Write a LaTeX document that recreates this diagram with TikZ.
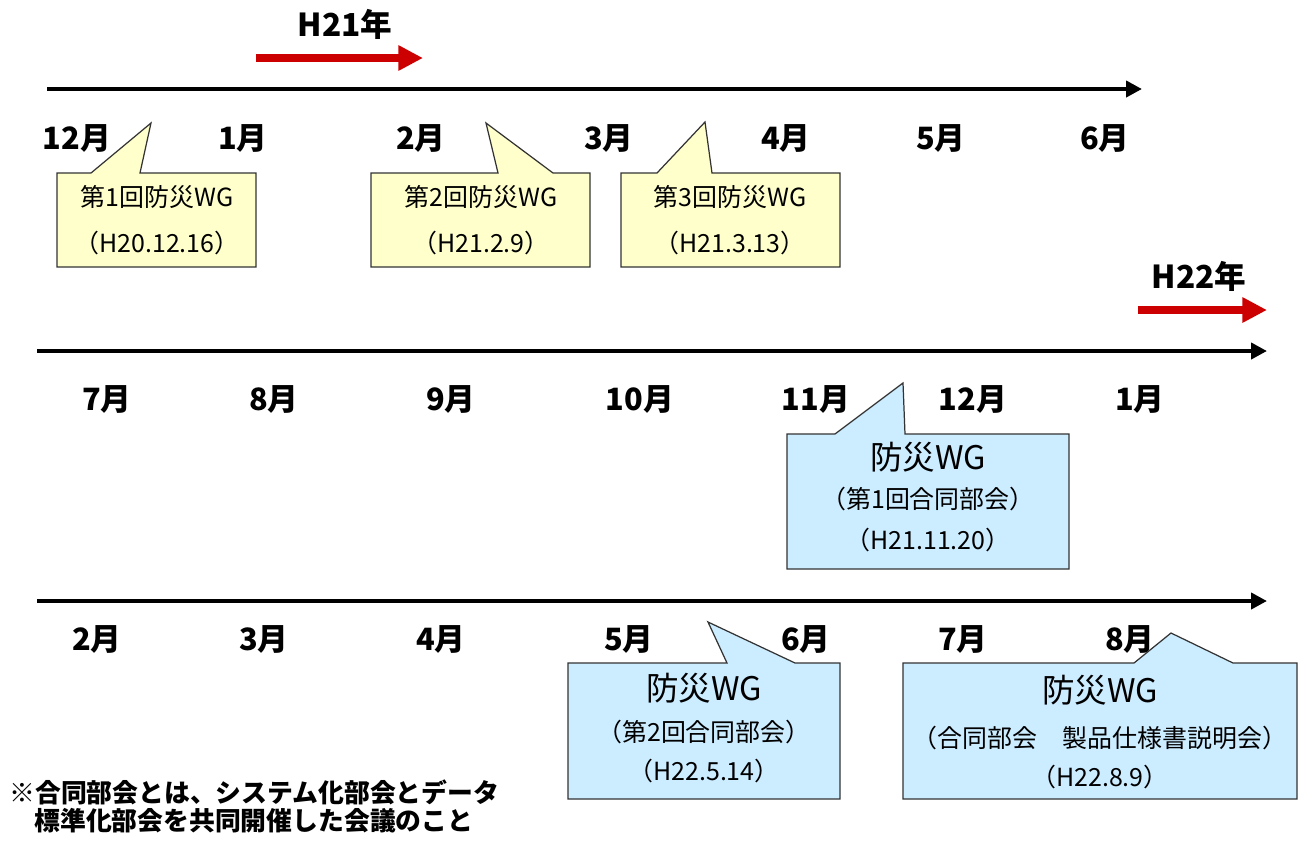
\documentclass[tikz,border=0pt]{standalone}
\usepackage{fontspec}
\setmainfont{Noto Sans CJK JP}
\usetikzlibrary{arrows.meta,positioning}
\definecolor{wgyellow}{HTML}{FFFFCC}
\definecolor{wgblue}{HTML}{CCECFF}
\definecolor{yearred}{HTML}{CC0000}
\tikzset{
  month/.style={font=\bfseries\fontsize{17.5}{17}\selectfont},
  yearlbl/.style={font=\bfseries\fontsize{18}{18}\selectfont},
  timeline/.style={line width=2.8pt,-{Triangle[length=9pt,width=9pt]}},
  yeararrow/.style={draw=yearred,line width=4.5pt,-{Triangle[length=14pt,width=13.6pt]}},
  memo/.style={draw=black!80,line width=0.7pt,fill=wgyellow},
  memoblue/.style={memo,fill=wgblue},
  small/.style={font=\fontsize{14.2}{15}\selectfont},
  big/.style={font=\fontsize{18.5}{19}\selectfont},
  note/.style={font=\bfseries\fontsize{14.7}{17}\selectfont,anchor=west,inner sep=0pt}
}
\begin{document}
\begin{tikzpicture}[x=0.02cm,y=-0.02cm]
   \useasboundingbox (0,0) rectangle (1299,843);
   % years
   \node[yearlbl] (h21) at (345,24) {H21年};
   \coordinate (h21s) at (256,58);
   \coordinate (h21e) at (423,58);
   \draw[yeararrow] (h21s) -- (h21e);
   \node[yearlbl] (h22) at (1199,276) {H22年};
   \coordinate (h22s) at (1138,310);
   \coordinate (h22e) at (1267,310);
   \draw[yeararrow] (h22s) -- (h22e);
   % time lines
   \coordinate (a1) at (47,89);   \coordinate (b1) at (1142,89);
   \coordinate (a2) at (37,351);  \coordinate (b2) at (1267,351);
   \coordinate (a3) at (37,601);  \coordinate (b3) at (1267,601);
   \draw[timeline] (a1) -- (b1);
   \draw[timeline] (a2) -- (b2);
   \draw[timeline] (a3) -- (b3);
   % months
   \foreach \x/\m [count=\i] in {77/12,243/1,421/2,609/3,786/4,941/5,1105/6}
      \node[month] (r1m\i) at (\x,138) {\m 月};
   \foreach \x/\m [count=\i] in {107/7,274/8,451/9,640/10,816/11,973/12,1140/1}
      \node[month] (r2m\i) at (\x,399) {\m 月};
   \foreach \x/\m [count=\i] in {97/2,264/3,441/4,629/5,806/6,963/7,1130/8}
      \node[month] (r3m\i) at (\x,639) {\m 月};
   % callouts
   \draw[memo] (57,173) -- (91,173) -- (151,123) -- (140,173) -- (256,173)
      -- (256,267) -- (57,267) -- cycle;
   \node[small] (wg1) at (157,197) {第1回防災WG};
   \node[small] (wg1d) at (157,243) {（H20.12.16）};
   \draw[memo] (371,173) -- (498,173) -- (486,123) -- (553,173) -- (590,173)
      -- (590,267) -- (371,267) -- cycle;
   \node[small] (wg2) at (481,197) {第2回防災WG};
   \node[small] (wg2d) at (481,243) {（H21.2.9）};
   \draw[memo] (621,173) -- (657,173) -- (705,122) -- (712,173) -- (840,173)
      -- (840,267) -- (621,267) -- cycle;
   \node[small] (wg3) at (730,197) {第3回防災WG};
   \node[small] (wg3d) at (730,243) {（H21.3.13）};
   \draw[memoblue] (787,434) -- (835,434) -- (903,383) -- (905,434) -- (1069,434)
      -- (1069,569) -- (787,569) -- cycle;
   \node[big] (jw1) at (928,457) {防災WG};
   \node[small] (jw1a) at (928,499) {（第1回合同部会）};
   \node[small] (jw1d) at (928,540) {（H21.11.20）};
   \draw[memoblue] (568,663) -- (727,663) -- (708,622) -- (795,663) -- (840,663)
      -- (840,799) -- (568,799) -- cycle;
   \node[big] (jw2) at (704,688) {防災WG};
   \node[small] (jw2a) at (704,732) {（第2回合同部会）};
   \node[small] (jw2d) at (704,771) {（H22.5.14）};
   \draw[memoblue] (903,663) -- (1134,663) -- (1171,633) -- (1233,663) -- (1297,663)
      -- (1297,799) -- (903,799) -- cycle;
   \node[big] (jw3) at (1100,690) {防災WG};
   \node[small] (jw3a) at (1100,738) {（合同部会　製品仕様書説明会）};
   \node[small] (jw3d) at (1100,777) {（H22.8.9）};
   % footnote
   \node[note] (fn1) at (9,792) {※合同部会とは、システム化部会とデータ};
   \node[note] (fn2) at (34,821) {標準化部会を共同開催した会議のこと};
\end{tikzpicture}
\end{document}
